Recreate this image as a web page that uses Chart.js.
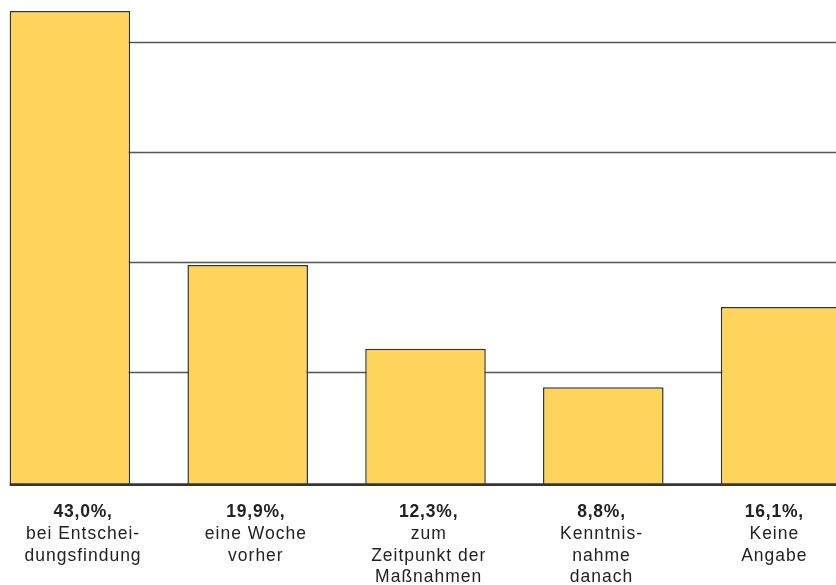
<!DOCTYPE html>
<html>
<head>
<meta charset="utf-8">
<script src="https://cdn.jsdelivr.net/npm/chart.js@4/dist/chart.umd.min.js"></script>
<style>
    html, body { margin: 0; padding: 0; background: #fff; overflow: hidden; }
    #wrap { position: relative; width: 836px; height: 585px; overflow: hidden; }
    #chart { position: absolute; left: -19px; top: 0; }
</style>
</head>
<body>
<div id="wrap"><canvas id="chart" width="889" height="585"></canvas></div>
<script>
(function () {
    "use strict";

    // Anteile in Prozent
    const values = [43.0, 19.9, 12.3, 8.8, 16.1];
    const categories = [
        ["bei Entschei-", "dungsfindung"],
        ["eine Woche", "vorher"],
        ["zum", "Zeitpunkt der", "Maßnahmen"],
        ["Kenntnis-", "nahme", "danach"],
        ["Keine", "Angabe"]
    ];
    const gridTicks = [10, 20, 30, 40];

    const BAR = "#fed55a";
    const EDGE = "#333333";
    const TEXT = "#222222";
    const FONT = "'Liberation Sans', Arial, sans-serif";

    // the label block is set on a slightly tighter pitch than the bars
    const LABEL_START = 0.074;
    const LABEL_PITCH = 0.972;

    function fmt(v) {
        return v.toFixed(1).replace(".", ",") + "%,";
    }

    const gridPlugin = {
        id: "gridBehind",
        beforeDatasetsDraw: function (chart) {
            const ctx = chart.ctx;
            const y = chart.scales.y;
            const first = chart.getDatasetMeta(0).data[0];
            const x0 = first.x - first.width / 2 + 3;
            ctx.save();
            ctx.strokeStyle = "#555555";
            ctx.lineWidth = 1.4;
            gridTicks.forEach(function (t) {
                const py = Math.round(y.getPixelForValue(t)) - 1.5;
                ctx.beginPath();
                ctx.moveTo(x0, py);
                ctx.lineTo(chart.chartArea.right, py);
                ctx.stroke();
            });
            ctx.restore();
        }
    };

    const labelPlugin = {
        id: "bottomLabels",
        afterDatasetsDraw: function (chart) {
            const ctx = chart.ctx;
            const y = chart.scales.y;
            const x = chart.scales.x;
            const first = chart.getDatasetMeta(0).data[0];
            const x0 = first.x - first.width / 2;
            const base = y.getPixelForValue(0);

            ctx.save();
            ctx.strokeStyle = "#363636";
            ctx.lineWidth = 2.6;
            ctx.beginPath();
            ctx.moveTo(x0, base + 0.6);
            ctx.lineTo(chart.chartArea.right, base + 0.6);
            ctx.stroke();

            ctx.fillStyle = TEXT;
            ctx.textAlign = "center";
            ctx.textBaseline = "alphabetic";
            values.forEach(function (v, i) {
                const cx = x.getPixelForValue(LABEL_START + i * LABEL_PITCH);
                let by = base + 33;
                ctx.font = "bold 17.5px " + FONT;
                if ("letterSpacing" in ctx) ctx.letterSpacing = "0.8px";
                ctx.fillText(fmt(v), cx, by);
                ctx.font = "17.5px " + FONT;
                if ("letterSpacing" in ctx) ctx.letterSpacing = "1px";
                categories[i].forEach(function (line) {
                    by += 21.8;
                    ctx.fillText(line, cx, by);
                });
            });
            ctx.restore();
        }
    };

    new Chart(document.getElementById("chart").getContext("2d"), {
        type: "bar",
        data: {
            labels: categories.map(function (c) { return c.join(" "); }),
            datasets: [{
                data: values,
                backgroundColor: BAR,
                borderColor: EDGE,
                borderWidth: 1.5,
                borderSkipped: "bottom",
                barPercentage: 1,
                categoryPercentage: 0.678
            }]
        },
        options: {
            responsive: false,
            animation: false,
            devicePixelRatio: 1,
            layout: { padding: { left: 0, right: 0, top: 0, bottom: 101 } },
            plugins: {
                legend: { display: false },
                tooltip: { enabled: false }
            },
            scales: {
                x: { display: false, grid: { display: false } },
                y: { display: false, min: 0, max: 44, ticks: { stepSize: 10 } }
            }
        },
        plugins: [gridPlugin, labelPlugin]
    });
})();
</script>
</body>
</html>
